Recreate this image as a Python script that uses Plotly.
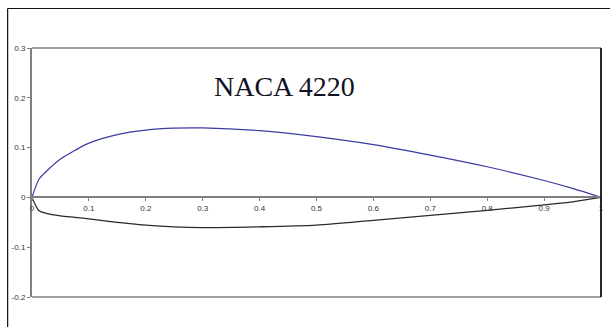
import plotly.graph_objects as go

# Chord stations and surface ordinates of the NACA 4220 section
x_c = [0.0, 0.0125, 0.025, 0.05, 0.075, 0.1, 0.15, 0.2, 0.25, 0.3,
       0.4, 0.5, 0.6, 0.7, 0.8, 0.9, 0.95, 1.0]
y_upper = [0.0, 0.037, 0.052, 0.077, 0.094, 0.109, 0.126, 0.135, 0.139, 0.1395,
           0.134, 0.122, 0.106, 0.085, 0.0615, 0.034, 0.018, 0.0]
y_lower = [0.0, -0.027, -0.032, -0.037, -0.040, -0.043, -0.050, -0.0555, -0.059, -0.0605,
           -0.059, -0.0555, -0.046, -0.036, -0.026, -0.015, -0.009, 0.0]

x_ticks = [0, 0.1, 0.2, 0.3, 0.4, 0.5, 0.6, 0.7, 0.8, 0.9, 1]
x_tick_text = ["0", "0.1", "0.2", "0.3", "0.4", "0.5", "0.6", "0.7", "0.8", "0.9", "1"]
y_ticks = [0.3, 0.2, 0.1, 0, -0.1, -0.2]
y_tick_text = ["0.3", "0.2", "0.1", "0", "-0.1", "-0.2"]
title_text = "NACA 4220"

W, H = 610, 327
ML, MR, MT, MB = 32, 6, 48, 30
PW, PH = W - ML - MR, H - MT - MB


def px(xp):
    return (xp - ML) / PW


def py(yp):
    return (H - MB - yp) / PH


fig = go.Figure()
fig.add_trace(go.Scatter(x=x_c, y=y_upper, mode="lines",
                         line=dict(color="#3b3ba3", width=1.2, shape="spline", smoothing=0.8),
                         hoverinfo="skip"))
fig.add_trace(go.Scatter(x=x_c, y=y_lower, mode="lines",
                         line=dict(color="#2a2a2a", width=1.3, shape="spline", smoothing=0.8),
                         hoverinfo="skip"))

tick_font = dict(family="Liberation Sans, Arial, sans-serif", size=8, color="#333333")

fig.update_layout(
    width=W, height=H,
    margin=dict(l=ML, r=MR, t=MT, b=MB),
    paper_bgcolor="white", plot_bgcolor="white",
    showlegend=False,
    xaxis=dict(range=[0, 1], tickvals=x_ticks, ticktext=x_tick_text,
               showgrid=False, zeroline=False,
               anchor="free", position=0.4,
               showline=True, linecolor="#7f7f7f", linewidth=2,
               ticks="outside", ticklen=3, tickcolor="#7f7f7f", tickwidth=1,
               tickfont=tick_font, fixedrange=True),
    yaxis=dict(range=[-0.2, 0.3], tickvals=y_ticks, ticktext=y_tick_text,
               showgrid=False, zeroline=False,
               showline=True, linecolor="#7f7f7f", linewidth=2,
               ticks="outside", ticklen=3, tickcolor="#7f7f7f", tickwidth=1,
               tickfont=tick_font, fixedrange=True),
    shapes=[
        # plot frame
        dict(type="line", xref="paper", yref="paper", x0=0, x1=1, y0=1, y1=1,
             line=dict(color="#404040", width=1.2)),
        dict(type="line", xref="paper", yref="paper", x0=0, x1=1, y0=0, y1=0,
             line=dict(color="#404040", width=1.2)),
        dict(type="line", xref="paper", yref="paper", x0=1, x1=1, y0=0, y1=1,
             line=dict(color="#111111", width=1.8)),
        # outer chart border
        dict(type="line", xref="paper", yref="paper",
             x0=px(7.5), x1=px(615), y0=py(8.5), y1=py(8.5),
             line=dict(color="#111111", width=1.2)),
        dict(type="line", xref="paper", yref="paper",
             x0=px(7.5), x1=px(7.5), y0=py(8.5), y1=py(335),
             line=dict(color="#111111", width=1.2)),
    ],
    annotations=[
        dict(text=title_text, xref="paper", yref="paper",
             x=px(286), y=py(87), xanchor="center", yanchor="middle",
             showarrow=False,
             font=dict(family="Liberation Serif, Times New Roman, serif",
                       size=28, color="#111122")),
    ],
)

fig.write_html("out.html")
